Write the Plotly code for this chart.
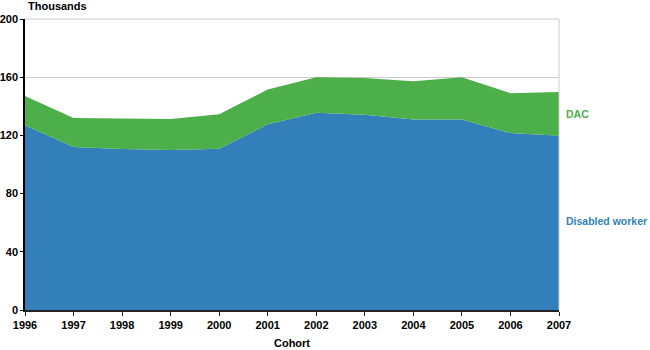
import plotly.graph_objects as go

# Cohort years and awards (thousands) by beneficiary type
years = [1996, 1997, 1998, 1999, 2000, 2001, 2002, 2003, 2004, 2005, 2006, 2007]
disabled_worker = [127, 112, 110.6, 110, 110.8, 127.6, 135.6, 134.2, 131, 131, 121.6, 119.8]
dac = [20, 20, 21.1, 21.2, 23.7, 24, 24.4, 25.3, 26.3, 28.9, 27.4, 30]
y_ticks = [0, 40, 80, 120, 160, 200]

BLUE = "#337fb9"
GREEN = "#4caf4a"
FONT = "Liberation Sans, Arial, sans-serif"

fig = go.Figure()
fig.add_trace(go.Scatter(
    x=years, y=disabled_worker, stackgroup="one", mode="lines",
    line=dict(width=0, color=BLUE), fillcolor=BLUE, name="Disabled worker",
    hoverinfo="x+y",
))
fig.add_trace(go.Scatter(
    x=years, y=dac, stackgroup="one", mode="lines",
    line=dict(width=0, color=GREEN), fillcolor=GREEN, name="DAC",
    hoverinfo="x+y",
))

fig.update_layout(
    width=650, height=350,
    margin=dict(l=25, r=91, t=19, b=40),
    paper_bgcolor="white", plot_bgcolor="white",
    showlegend=False,
    font=dict(family=FONT, size=11, color="black"),
    xaxis=dict(
        range=[1996, 2007], tickmode="array", tickvals=years,
        ticktext=[str(y) for y in years],
        showgrid=False, zeroline=False, automargin=False,
        showline=True, linecolor="#222", linewidth=2,
        ticks="outside", ticklen=4, tickcolor="#222",
        tickfont=dict(family=FONT, size=11, color="black", weight="bold"),
        title=dict(text="<b>Cohort</b>", font=dict(family=FONT, size=11), standoff=9),
    ),
    yaxis=dict(
        range=[0, 200], tickmode="array", tickvals=y_ticks,
        showgrid=True, gridcolor="#cccccc", gridwidth=1, zeroline=False,
        automargin=False,
        showline=True, linecolor="black", linewidth=1.5,
        ticks="outside", ticklen=3, tickcolor="black",
        tickfont=dict(family=FONT, size=11, color="black", weight="bold"),
        layer="below traces",
    ),
    shapes=[
        dict(type="line", xref="paper", yref="paper", x0=1, x1=1, y0=0, y1=1,
             line=dict(color="#cccccc", width=1), layer="above"),
        dict(type="line", xref="paper", yref="paper", x0=0, x1=1, y0=1, y1=1,
             line=dict(color="#cccccc", width=1), layer="below"),
    ],
    annotations=[
        dict(text="<b>Thousands</b>", xref="paper", yref="paper", x=0, y=1,
             xanchor="left", yanchor="bottom", yshift=5, xshift=1, showarrow=False,
             font=dict(family=FONT, size=11, color="black")),
        dict(text="<b>DAC</b>", xref="paper", yref="y", x=1, y=134.4,
             xanchor="left", yanchor="middle", xshift=5, showarrow=False,
             font=dict(family=FONT, size=10.5, color=GREEN)),
        dict(text="<b>Disabled worker</b>", xref="paper", yref="y", x=1, y=61,
             xanchor="left", yanchor="middle", xshift=5, showarrow=False,
             font=dict(family=FONT, size=10.5, color=BLUE)),
    ],
)

fig.write_html("out.html")
